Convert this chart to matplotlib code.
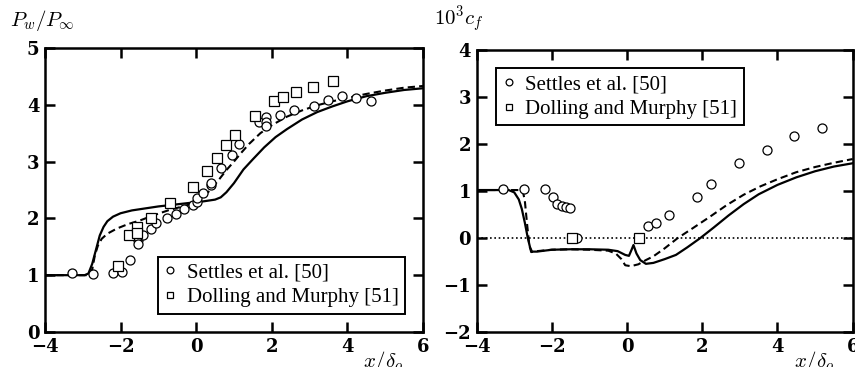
import numpy as np
import matplotlib.pyplot as plt

plt.rcParams['mathtext.fontset'] = 'cm'

# ---- left panel: wall pressure ----
p_settles_x = [-3.28, -2.72, -2.19, -1.97, -1.75, -1.55, -1.55, -1.53, -1.40, -1.20,
               -1.06, -0.76, -0.54, -0.32, -0.09, 0.02, 0.03, 0.19, 0.39, 0.39,
               0.66, 0.94, 1.13, 1.67, 1.86, 1.86, 1.86, 2.23, 2.59, 3.12,
               3.50, 3.87, 4.23, 4.62]
p_settles_y = [1.03, 1.02, 1.03, 1.05, 1.27, 1.62, 1.67, 1.55, 1.71, 1.81,
               1.92, 2.00, 2.08, 2.16, 2.24, 2.28, 2.36, 2.44, 2.59, 2.63,
               2.89, 3.12, 3.31, 3.70, 3.78, 3.70, 3.63, 3.82, 3.90, 3.98,
               4.08, 4.15, 4.12, 4.07]
p_dolling_x = [-2.06, -1.79, -1.56, -1.56, -1.20, -0.69, -0.08, 0.28, 0.54, 0.78,
               1.03, 1.56, 2.07, 2.31, 2.63, 3.10, 3.63]
p_dolling_y = [1.17, 1.71, 1.85, 1.74, 2.01, 2.27, 2.56, 2.84, 3.06, 3.29,
               3.47, 3.81, 4.06, 4.13, 4.22, 4.31, 4.41]

p_solid_x = [-4, -2.95, -2.85, -2.75, -2.65, -2.55, -2.45, -2.35, -2.2, -2.0, -1.7,
             -1.4, -1.0, -0.6, -0.2, 0.2, 0.5, 0.65, 0.8, 1.0, 1.25, 1.5, 1.8,
             2.1, 2.4, 2.8, 3.2, 3.6, 4.0, 4.5, 5.0, 5.5, 6.0]
p_solid_y = [1.0, 1.0, 1.03, 1.2, 1.45, 1.7, 1.85, 1.95, 2.03, 2.09, 2.14,
             2.17, 2.21, 2.24, 2.27, 2.3, 2.33, 2.37, 2.46, 2.62, 2.86, 3.04, 3.25,
             3.43, 3.57, 3.74, 3.87, 3.97, 4.06, 4.15, 4.21, 4.26, 4.29]
p_dash_x = [-4, -2.85, -2.75, -2.68, -2.6, -2.5, -2.35, -2.1, -1.8, -1.5, -1.1,
            -0.7, -0.3, 0.0, 0.2, 0.4, 0.6, 0.8, 1.0, 1.2, 1.4, 1.7, 2.0, 2.4,
            2.8, 3.2, 3.6, 4.0, 4.5, 5.0, 5.5, 6.0]
p_dash_y = [1.0, 1.0, 1.1, 1.35, 1.52, 1.64, 1.73, 1.82, 1.9, 1.96, 2.06,
            2.15, 2.22, 2.28, 2.38, 2.52, 2.68, 2.85, 3.0, 3.16, 3.31, 3.5, 3.64, 3.79,
            3.9, 3.99, 4.06, 4.12, 4.19, 4.25, 4.3, 4.33]

# ---- right panel: skin friction ----
c_settles_x = [-3.29, -2.73, -2.18, -1.96, -1.86, -1.74, -1.63, -1.52, -1.32,
               0.56, 0.76, 1.12, 1.87, 2.23, 2.97, 3.71, 4.44, 5.18]
c_settles_y = [1.04, 1.04, 1.04, 0.88, 0.72, 0.69, 0.65, 0.63, 0.0,
               0.25, 0.32, 0.48, 0.87, 1.14, 1.59, 1.87, 2.16, 2.35]
c_dolling_x = [-1.47, 0.32]
c_dolling_y = [0.01, 0.0]

c_solid_x = [-4, -3.15, -3.0, -2.88, -2.8, -2.72, -2.64, -2.58, -2.53, -2.4, -2.0,
             -1.5, -1.0, -0.5, -0.25, -0.05, 0.05, 0.12, 0.17, 0.25, 0.35, 0.5,
             0.7, 1.0, 1.3, 1.6, 1.95, 2.3, 2.7, 3.1, 3.5, 4.0, 4.5, 5.0, 5.5, 6.0]
c_solid_y = [1.02, 1.02, 0.97, 0.82, 0.62, 0.33, 0.0, -0.2, -0.29, -0.29, -0.25,
             -0.24, -0.24, -0.25, -0.28, -0.36, -0.38, -0.25, -0.15, -0.33, -0.47, -0.55,
             -0.53, -0.45, -0.36, -0.2, 0.0, 0.22, 0.48, 0.72, 0.93, 1.13, 1.29, 1.42,
             1.52, 1.59]
c_dash_x = [-4, -2.78, -2.72, -2.66, -2.6, -2.55, -2.4, -2.0, -1.5, -1.0, -0.5,
            -0.3, -0.15, -0.05, 0.1, 0.3, 0.5, 0.7, 1.0, 1.35, 1.75, 2.2, 2.65,
            3.1, 3.55, 4.0, 4.5, 5.0, 5.5, 6.0]
c_dash_y = [1.02, 1.02, 0.8, 0.3, -0.15, -0.3, -0.28, -0.25, -0.24, -0.25, -0.27,
            -0.33, -0.45, -0.58, -0.6, -0.56, -0.47, -0.39, -0.22, 0.0, 0.21, 0.45, 0.7,
            0.92, 1.1, 1.25, 1.4, 1.51, 1.6, 1.68]

legend_labels = ['Settles et al. [50]', 'Dolling and Murphy [51]']

fig = plt.figure(figsize=(8.55, 3.67), dpi=100)
ax1 = fig.add_axes([0.0526, 0.0954, 0.4421, 0.774])
ax2 = fig.add_axes([0.5575, 0.0954, 0.4398, 0.7684])

mk = dict(linestyle='none', markerfacecolor='white', markeredgecolor='black',
          markeredgewidth=0.9, markersize=6.5)


def style(ax):
    for s in ax.spines.values():
        s.set_linewidth(1.8)
    ax.tick_params(direction='in', length=7, width=1.8, top=True, right=True,
                   labelsize=13, pad=4)
    ax.set_xlim(-4, 6)
    ax.set_xticks([-4, -2, 0, 2, 4, 6])
    for t in ax.get_xticklabels() + ax.get_yticklabels():
        t.set_family('DejaVu Serif')
        t.set_fontweight('bold')


def add_legend(ax, handles, loc, anchor):
    leg = ax.legend(handles, legend_labels, loc=loc, bbox_to_anchor=anchor,
                    prop={'family': 'Liberation Serif', 'size': 15},
                    fancybox=False, framealpha=1, edgecolor='black',
                    handlelength=0.6, handletextpad=0.5, borderpad=0.3,
                    labelspacing=0.25, markerscale=0.75, borderaxespad=0)
    leg.get_frame().set_linewidth(1.4)


# left
ax1.plot(p_solid_x, p_solid_y, color='black', lw=1.6)
ax1.plot(p_dash_x, p_dash_y, color='black', lw=1.5, dashes=(3.5, 2))
ax1.plot(p_settles_x, p_settles_y, marker='o', **mk)
ax1.plot(p_dolling_x, p_dolling_y, marker='s', **mk)
ax1.set_ylim(0, 5)
ax1.set_yticks([0, 1, 2, 3, 4, 5])
style(ax1)
add_legend(ax1, ax1.lines[2:], 'lower right', (0.952, 0.065))
fig.text(0.012, 0.93, r'$P_w/P_\infty$', fontsize=15)
fig.text(0.448, 0.048, r'$x/\delta_o$', fontsize=15, ha='center', va='top')

# right
ax2.axhline(0, color='black', lw=1.2, dashes=(1, 1.6))
ax2.plot(c_solid_x, c_solid_y, color='black', lw=1.6)
ax2.plot(c_dash_x, c_dash_y, color='black', lw=1.5, dashes=(3.5, 2))
ax2.plot(c_settles_x, c_settles_y, marker='o', **mk)
ax2.plot(c_dolling_x, c_dolling_y, marker='s', **mk)
ax2.set_ylim(-2, 4)
ax2.set_yticks([-2, -1, 0, 1, 2, 3, 4])
style(ax2)
add_legend(ax2, ax2.lines[3:], 'upper left', (0.052, 0.935))
fig.text(0.508, 0.93, r'$\mathbf{10^3}c_f$', fontsize=15)
fig.text(0.952, 0.048, r'$x/\delta_o$', fontsize=15, ha='center', va='top')

fig.savefig('out.png', dpi=100)
